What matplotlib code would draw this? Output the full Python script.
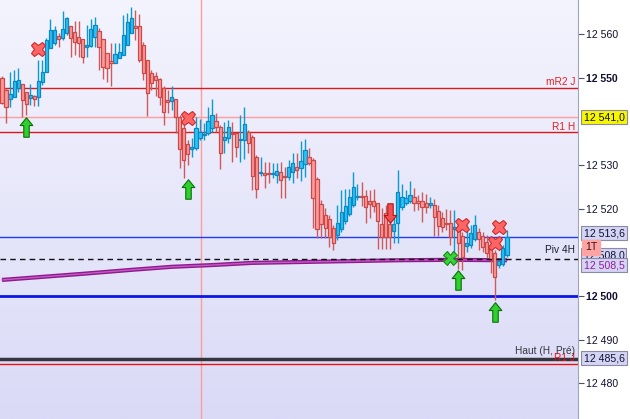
import numpy as np
import matplotlib
matplotlib.use("Agg")
from matplotlib import pyplot as plt
from matplotlib.colors import LinearSegmentedColormap
from matplotlib.path import Path

plt.rcParams['font.family'] = ['Liberation Sans', 'DejaVu Sans']

# OHLC, one candle per bar (oldest first)
opens = [
    12549.9, 12547.2, 12545.1, 12545.6, 12547.6, 12548.6, 12546.7, 12545.4, 12545.8, 12545.6,
    12549.0, 12551.3, 12556.8, 12557.9, 12559.6, 12559.1, 12560.2, 12561.8, 12560.5, 12559.3,
    12558.9, 12557.0, 12557.3, 12559.3, 12560.7, 12558.9, 12555.7, 12553.8, 12553.4, 12554.5,
    12555.2, 12557.5, 12560.2, 12561.8, 12561.8, 12557.5, 12554.1, 12551.1, 12550.4, 12549.7,
    12547.6, 12544.9, 12544.7, 12545.1, 12541.0, 12538.5, 12534.8, 12533.7, 12533.9, 12536.2,
    12536.9, 12537.3, 12538.5, 12540.1, 12538.7, 12535.7, 12536.2, 12537.3, 12537.3, 12535.7,
    12535.7, 12537.6, 12536.4, 12531.8, 12528.2, 12528.2, 12528.2, 12528.0, 12527.7, 12528.4,
    12527.5, 12527.3, 12528.4, 12529.6, 12529.3, 12530.2, 12531.8, 12531.2, 12526.8, 12521.1,
    12518.6, 12517.6, 12515.6, 12514.0, 12515.4, 12517.2, 12518.8, 12520.9, 12522.7, 12522.9,
    12522.9, 12521.8, 12521.8, 12521.3, 12516.5, 12519.0, 12516.5, 12514.9, 12516.7, 12520.4,
    12521.3, 12521.8, 12522.7, 12521.8, 12521.8, 12521.3, 12520.9, 12520.9, 12519.5, 12517.9,
    12516.7, 12516.7, 12515.4, 12515.6, 12513.8, 12511.5, 12511.7, 12513.1, 12514.7, 12513.8,
    12512.4, 12511.5, 12509.9, 12507.1, 12507.3, 12509.4]
highs = [
    12550.4, 12547.6, 12551.3, 12551.8, 12552.2, 12548.6, 12546.7, 12548.6, 12546.0, 12554.1,
    12554.1, 12559.1, 12563.4, 12561.8, 12560.2, 12565.3, 12563.9, 12561.8, 12563.0, 12563.0,
    12558.9, 12562.1, 12563.4, 12563.9, 12561.4, 12558.9, 12555.7, 12557.9, 12557.9, 12557.9,
    12564.4, 12564.8, 12566.2, 12565.5, 12564.6, 12558.2, 12554.1, 12551.8, 12551.3, 12549.9,
    12548.1, 12547.2, 12548.1, 12545.1, 12541.5, 12539.2, 12535.7, 12536.2, 12541.0, 12540.5,
    12539.6, 12543.3, 12545.1, 12541.9, 12539.2, 12539.9, 12540.3, 12539.9, 12537.3, 12541.5,
    12543.3, 12538.0, 12536.9, 12532.3, 12531.8, 12530.7, 12530.7, 12530.5, 12530.5, 12530.7,
    12529.6, 12531.2, 12532.8, 12532.8, 12535.5, 12536.0, 12533.9, 12531.6, 12527.3, 12522.0,
    12520.2, 12518.6, 12516.3, 12520.9, 12524.3, 12524.5, 12524.5, 12528.4, 12525.7, 12526.1,
    12524.3, 12524.3, 12524.5, 12521.3, 12520.2, 12520.9, 12517.4, 12517.9, 12528.9, 12525.7,
    12524.3, 12526.4, 12524.7, 12523.1, 12523.8, 12523.4, 12522.7, 12522.2, 12520.9, 12519.3,
    12519.9, 12519.7, 12519.7, 12517.9, 12514.7, 12516.3, 12516.3, 12518.6, 12515.6, 12514.7,
    12514.0, 12513.5, 12510.5, 12508.7, 12511.7, 12515.1]
lows = [
    12544.0, 12539.6, 12543.3, 12545.6, 12546.7, 12541.0, 12541.5, 12543.8, 12543.5, 12543.5,
    12548.3, 12551.3, 12556.8, 12557.5, 12557.0, 12558.6, 12559.8, 12554.7, 12555.2, 12554.7,
    12553.4, 12554.7, 12557.0, 12557.0, 12551.8, 12549.7, 12549.0, 12548.1, 12553.4, 12554.5,
    12555.2, 12557.5, 12560.2, 12558.6, 12553.6, 12549.5, 12541.2, 12547.2, 12545.8, 12543.8,
    12539.2, 12541.9, 12542.6, 12537.3, 12529.3, 12527.0, 12530.0, 12531.8, 12533.4, 12535.7,
    12535.7, 12536.9, 12537.6, 12537.6, 12529.1, 12532.8, 12535.1, 12530.7, 12531.8, 12530.7,
    12531.4, 12532.8, 12524.3, 12522.5, 12527.5, 12524.7, 12525.9, 12527.0, 12525.9, 12522.5,
    12522.5, 12526.6, 12525.9, 12527.0, 12526.4, 12527.3, 12530.0, 12515.6, 12513.3, 12513.3,
    12513.3, 12511.2, 12510.5, 12512.8, 12514.7, 12516.5, 12518.3, 12520.4, 12522.0, 12520.6,
    12516.7, 12517.9, 12519.3, 12510.8, 12510.8, 12510.8, 12510.8, 12512.2, 12512.2, 12519.7,
    12520.9, 12521.3, 12519.5, 12519.7, 12517.0, 12519.0, 12520.2, 12513.8, 12513.8, 12514.7,
    12515.1, 12511.7, 12509.2, 12506.2, 12506.0, 12510.1, 12511.0, 12512.6, 12510.5, 12510.1,
    12508.7, 12505.3, 12499.1, 12506.4, 12506.9, 12508.9]
closes = [
    12544.2, 12543.3, 12546.3, 12549.3, 12549.5, 12544.9, 12544.0, 12546.0, 12545.1, 12549.3,
    12551.3, 12558.6, 12560.9, 12560.9, 12558.9, 12561.2, 12563.7, 12559.1, 12558.2, 12557.9,
    12554.7, 12557.5, 12561.2, 12562.1, 12557.0, 12552.5, 12552.2, 12553.4, 12555.4, 12555.9,
    12559.8, 12562.8, 12563.7, 12561.4, 12554.1, 12551.1, 12546.5, 12548.8, 12549.5, 12545.6,
    12542.1, 12544.4, 12545.6, 12541.0, 12533.7, 12531.2, 12532.5, 12534.1, 12538.5, 12537.6,
    12537.1, 12540.1, 12541.5, 12538.7, 12532.8, 12536.4, 12538.7, 12537.1, 12534.1, 12536.0,
    12539.4, 12535.1, 12527.5, 12524.5, 12528.4, 12527.7, 12528.0, 12528.2, 12528.6, 12526.6,
    12527.3, 12529.6, 12530.5, 12528.9, 12530.9, 12533.4, 12530.5, 12522.5, 12515.4, 12516.5,
    12515.6, 12513.5, 12512.2, 12516.7, 12519.3, 12520.6, 12522.7, 12525.0, 12522.9, 12522.7,
    12520.4, 12521.1, 12520.6, 12517.2, 12513.5, 12513.5, 12513.5, 12516.5, 12523.8, 12522.7,
    12522.5, 12523.1, 12521.3, 12521.3, 12520.4, 12520.4, 12521.3, 12518.1, 12516.0, 12515.8,
    12516.5, 12513.5, 12515.8, 12512.2, 12508.9, 12512.2, 12514.4, 12516.3, 12513.1, 12511.2,
    12509.9, 12508.3, 12504.4, 12508.0, 12511.0, 12513.5]

# moving average read at a few bars
ma_bars = [0, 10, 20, 32, 42, 52, 62, 74, 86, 98, 111, 125]
ma_vals = [12503.7, 12504.4, 12505.1, 12506.0, 12506.7, 12507.1, 12507.6, 12507.8,
           12508.0, 12508.2, 12508.3, 12508.2]

# signals
sell_x_bars = [9, 46, 114, 122, 123]
sell_x_prices = [12556.6, 12540.8, 12516.3, 12512.2, 12515.8]
buy_arrow_bars = [6, 46, 113, 122]
buy_arrow_prices = [12538.7, 12524.5, 12503.7, 12496.4]
sell_arrow_bars = [96]
sell_arrow_prices = [12519.0]
buy_x_bars = [111]
buy_x_prices = [12508.7]

session_break = 49.3

# horizontal levels
lvl_mr2_j = 12547.6
lvl_last_high = 12541.0
lvl_r1_h = 12537.5
lvl_last = 12513.6
lvl_piv_4h = 12508.6
lvl_round = 12500.0
lvl_haut_pre = 12485.6
lvl_r1_j = 12484.4

yticks = [12480, 12490, 12500, 12520, 12530, 12550, 12560]
ytick_labels = ['12 480', '12 490', '12 500', '12 520', '12 530', '12 550', '12 560']
bold_ticks = ['12 500', '12 550']

o = np.array(opens); h = np.array(highs); l = np.array(lows); c = np.array(closes)
x = np.arange(len(o))

fig = plt.figure(figsize=(6.3, 4.19), dpi=100)
fig.patch.set_facecolor('white')
ax = fig.add_axes([0, 0, 578 / 630, 1])

bg = LinearSegmentedColormap.from_list('bg', ['#f4f4fe', '#dadaf7'])
ax.imshow(np.linspace(0, 1, 256).reshape(-1, 1), cmap=bg, aspect='auto',
          extent=(0, 1, 0, 1), transform=ax.transAxes, zorder=0)

ax.axvline(session_break, color='#ff9c9c', lw=1, zorder=1)

ax.axhline(lvl_mr2_j, color='#d81c1c', lw=1, zorder=1)
ax.axhline(lvl_last_high, color='#ff9c9c', lw=1, zorder=1)
ax.axhline(lvl_r1_h, color='#e01818', lw=1, zorder=1)
ax.axhline(lvl_last, color='#1f3cf0', lw=1, zorder=1)
ax.axhline(lvl_round, color='#0a14e6', lw=2, zorder=1)
ax.axhline(lvl_haut_pre, color='#35353d', lw=2.5, zorder=1)
ax.axhline(lvl_r1_j, color='#f01010', lw=1, zorder=1)

ax.plot(ma_bars, ma_vals, color='#8e1a8e', lw=3, zorder=2, solid_capstyle='butt')
ax.plot(ma_bars, ma_vals, color='#c45ac4', lw=1, zorder=2)

up = c >= o
bottom = np.minimum(o, c)
height = np.maximum(np.abs(c - o), 0.12)
ax.vlines(x[up], l[up], h[up], color='#0a9bd0', lw=1, zorder=3)
ax.vlines(x[~up], l[~up], h[~up], color='#cf5a5a', lw=1, zorder=3)
ax.bar(x[up], height[up], bottom=bottom[up], width=0.8, color='#2cc2f2',
       edgecolor='#0a88c4', linewidth=0.9, zorder=4)
ax.bar(x[~up], height[~up], bottom=bottom[~up], width=0.8, color='#ff9a9a',
       edgecolor='#c84a4a', linewidth=0.9, zorder=4)

ax.axhline(lvl_piv_4h, color='#111111', lw=1, ls=(0, (4, 3)), zorder=5)

arrow_v = [(0, 1), (0.65, 0.2), (0.28, 0.2), (0.28, -1), (-0.28, -1), (-0.28, 0.2), (-0.65, 0.2), (0, 1)]
codes = [Path.MOVETO] + [Path.LINETO] * 6 + [Path.CLOSEPOLY]
up_arrow = Path(arrow_v, codes)
down_arrow = Path([(vx, -vy) for vx, vy in arrow_v], codes)

ax.plot(buy_arrow_bars, buy_arrow_prices, ls='none', marker=up_arrow, markersize=14,
        mfc='#2ed02e', mec='#0b6e0b', mew=0.8, zorder=6)
ax.plot(sell_arrow_bars, sell_arrow_prices, ls='none', marker=down_arrow, markersize=14,
        mfc='#f05050', mec='#b01818', mew=0.8, zorder=6)
ax.plot(sell_x_bars, sell_x_prices, ls='none', marker='X', markersize=10.5,
        mfc='#ff6464', mec='#cc2a2a', mew=0.8, zorder=6)
ax.plot(buy_x_bars, buy_x_prices, ls='none', marker='X', markersize=10,
        mfc='#3ad43a', mec='#128a12', mew=0.8, zorder=6)

ax.set_xlim(-0.5, 142.6)
ax.set_ylim(12471.85, 12567.8)

# level names at the right edge of the plot
yt = ax.get_yaxis_transform()
names = [('mR2 J', 12549.0, '#e42020'), ('R1 H', 12538.7, '#e42020'),
         ('Piv 4H', 12510.5, '#1a1a30'), ('R1 J', 12485.9, '#f01010'),
         ('Haut (H, Pré)', 12487.4, '#35353d')]
for txt, py, col in names:
    ax.annotate(txt, xy=(1, py), xycoords=yt, xytext=(-2, 0), textcoords='offset points',
                ha='right', va='center', fontsize=7.3, color=col, zorder=7)

# value boxes on the price scale
boxes = [('12 541,0', 12541.0, '#f6f600', '#101010'),
         ('12 508,0', 12509.3, '#d4d4f4', '#101030'),
         ('12 513,6', 12514.4, '#d4d4f4', '#101030'),
         ('12 508,5', 12507.1, '#d4d4f4', '#9a1a9a'),
         ('12 485,6', 12485.8, '#d4d4f4', '#101030')]
for txt, py, fc, tc in boxes:
    ax.annotate(txt, xy=(1, py), xycoords=yt, xytext=(4, 0), textcoords='offset points',
                ha='left', va='center', fontsize=7.6, color=tc, annotation_clip=False,
                bbox=dict(boxstyle='square,pad=0.2', fc=fc, ec='#8a8aa6', lw=0.8), zorder=8)
ax.annotate('1T', xy=(1, 12511.2), xycoords=yt, xytext=(5, 0), textcoords='offset points',
            ha='left', va='center', fontsize=7.6, color='#401010', annotation_clip=False,
            bbox=dict(boxstyle='square,pad=0.25', fc='#ffa4a4', ec='#ffa4a4'), zorder=9)

ax.yaxis.tick_right()
ax.set_yticks(yticks)
ax.set_yticklabels(ytick_labels)
for lab in ax.get_yticklabels():
    if lab.get_text() in bold_ticks:
        lab.set_fontweight('bold')
ax.tick_params(axis='y', direction='out', length=4, width=0.8, color='#50506a',
               labelsize=7.6, pad=2, labelcolor='#101030')
ax.set_xticks([])
for side in ['top', 'left', 'bottom']:
    ax.spines[side].set_visible(False)
ax.spines['right'].set_color('#a0a6b8')

fig.savefig('out.png', dpi=100)
